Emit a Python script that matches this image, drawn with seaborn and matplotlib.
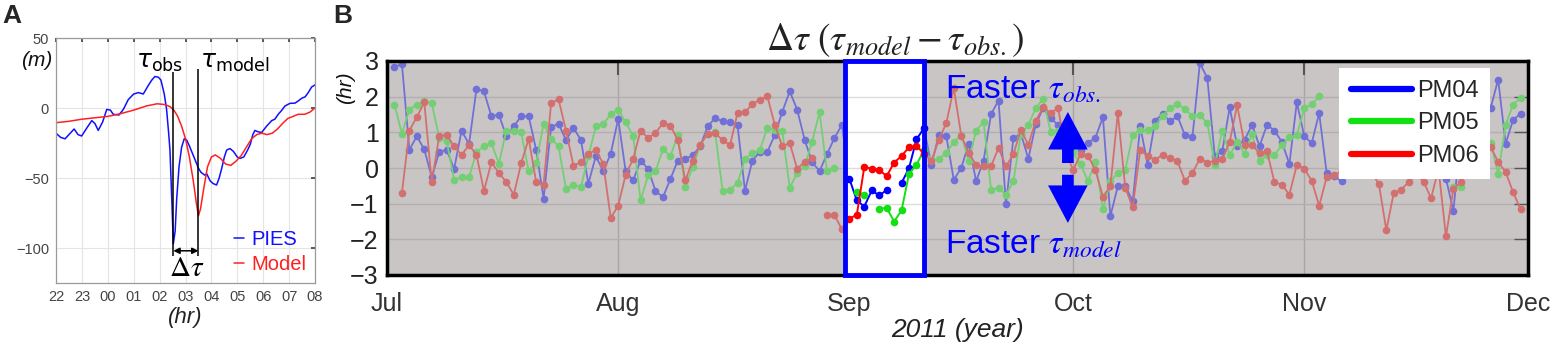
import numpy as np
import pandas as pd
import matplotlib
matplotlib.use("Agg")
import matplotlib.pyplot as plt
import seaborn as sns
from matplotlib.lines import Line2D

sns.set_theme(style="white")
plt.rcParams["font.family"] = ["Liberation Sans", "DejaVu Sans"]
plt.rcParams["mathtext.fontset"] = "stix"

nan = np.nan

# ---------------- Panel A data (hours after 22:00, metres) ----------------
hour_labels = ["22", "23", "00", "01", "02", "03", "04", "05", "06", "07", "08"]
pies_hours = [0.00, 0.18, 0.35, 0.55, 0.70, 0.85, 0.99, 1.20, 1.38, 1.50, 1.63, 1.80, 1.96, 2.10,
              2.21, 2.43, 2.60, 2.79, 3.00, 3.18, 3.37, 3.56, 3.70, 3.82, 3.95, 4.05, 4.18, 4.27,
              4.35, 4.40, 4.47, 4.53, 4.60, 4.66, 4.75, 4.85, 4.95, 5.05, 5.17, 5.37, 5.50, 5.60,
              5.75, 5.82, 5.95, 6.07, 6.20, 6.30, 6.40, 6.50, 6.59, 6.72, 6.85, 7.00, 7.10, 7.25,
              7.40, 7.50, 7.60, 7.68, 7.80, 7.94, 8.13, 8.33, 8.45, 8.58, 8.70, 8.84, 9.03, 9.23,
              9.35, 9.49, 9.62, 9.74, 9.87, 10.0]
pies_vals = [-18, -21, -22, -18, -15, -19, -20, -14, -9, -11, -16, -10, -1, -1.5,
             -4.5, -5, -1, 6, 10, 11, 10, 16, 20, 22.5, 22, 20, 10, -1,
             -18, -30, -65, -97, -88, -65, -42, -28, -22, -23, -28, -37, -43, -46,
             -48, -47, -52, -54, -55, -50, -43, -35, -30, -29, -31, -35, -36, -35,
             -30, -26, -19, -16, -17, -17.5, -13, -9, -8, -4.5, -2, 1.4, 3.3, 3.5,
             5, 7, 8, 11, 15, 16.5]
model_hours = [0.0, 0.5, 1.0, 1.5, 2.0, 2.5, 3.0, 3.5, 3.9, 4.2, 4.4, 4.55, 4.7, 4.85, 5.0,
               5.15, 5.3, 5.42, 5.50, 5.58, 5.70, 5.85, 6.0, 6.15, 6.35, 6.55, 6.75, 6.95,
               7.15, 7.35, 7.55, 7.75, 7.95, 8.15, 8.35, 8.55, 8.75, 8.95, 9.15, 9.35, 9.6,
               9.8, 10.0]
model_vals = [-10.5, -9.5, -8, -7, -6, -4, -1.5, 1.5, 3, 2.5, 1, -1.5, -6, -13, -22,
              -35, -52, -68, -77, -72, -58, -42, -35, -33.5, -36, -40, -41, -38,
              -34, -28, -22, -19, -18, -19, -18, -15, -11, -7.5, -6, -4.5, -4.5,
              -3, 0]
tau_obs_hour = 4.53
tau_model_hour = 5.50

# ---------------- Panel B data (daily, from 2011-07-01) ----------------
stations = ["PM04", "PM05", "PM06"]
pm04 = [nan, 2.83, 2.92, 0.51, 0.89, 0.52, -0.26, 0.45, 0.51, -0.03,
        1.05, 0.67, 2.22, 2.15, 1.45, 1.50, 0.89, 1.17, 1.45, 1.45,
        0.51, -0.86, 1.15, 1.24, 0.78, 1.12, 0.79, -0.44, 0.33, -0.09,
        0.40, 1.38, -0.09, -0.35, 0.21, -0.02, -0.64, -0.82, -0.31, 0.21,
        0.25, 0.36, 0.61, 1.17, 1.40, 1.31, 1.29, 1.21, -0.64, 0.21,
        0.45, 0.45, 0.93, 1.57, 2.15, 1.64, 0.79, 0.17, -0.09, 0.39,
        0.84, 1.21, -0.30, -0.91, -1.08, -0.63, -0.77, -0.62, nan, -0.42,
        0.00, 0.80, 1.12, 0.09, 0.93, 0.89, -0.33, 0.00, 0.68, -0.37,
        0.21, 1.51, 1.89, -1.01, 0.84, 0.96, 0.26, 1.23, 1.68, 1.40,
        1.20, 0.93, 0.75, 0.51, 0.70, 0.85, 1.43, -1.35, -0.51, -0.51,
        -0.93, 1.17, 0.09, 1.33, 1.51, 1.31, 1.45, 0.92, 0.86, 2.94,
        2.52, 0.33, 0.47, 1.70, 0.61, 0.79, 1.21, 0.61, 1.21, 1.05,
        0.73, 0.11, 1.84, 0.89, 0.70, 1.54, -0.14, -0.23, -0.37, nan,
        nan, nan, nan, nan, nan, nan, nan, nan, nan, nan,
        nan, 0.50, -0.30, -1.20, 1.03, 0.90, 0.72, 1.79, 1.69, 2.48,
        0.68, 1.35, 1.52]
pm05 = [nan, 1.78, 0.96, 1.64, 1.78, 1.87, 1.82, 0.85, 0.75, -0.33,
        -0.26, -0.26, 0.45, 0.61, 0.70, 0.12, 1.05, 1.05, 1.00, -0.09,
        0.14, 1.24, 0.81, 0.61, -0.58, -0.47, -0.54, 0.33, 1.17, 1.23,
        1.51, 1.64, 1.28, 0.91, -0.91, -0.21, -0.09, 0.53, 0.33, 0.93,
        -0.54, 0.03, 0.65, 0.96, 1.00, -0.64, -0.61, -0.42, 0.25, 0.42,
        0.51, 1.12, 1.07, 1.05, -0.56, -0.14, 0.05, 0.73, 1.57, -0.09,
        0.00, nan, nan, -0.66, -0.75, nan, -1.14, -1.12, -1.50, -1.19,
        -0.16, 0.09, 0.50, 0.23, 0.26, 0.42, 0.73, 0.92, 0.21, 1.05,
        1.29, -0.61, -0.56, -0.75, -0.37, 0.95, 1.21, 1.68, 1.94, 1.00,
        1.05, 0.90, 0.45, 0.10, -0.37, 0.18, -1.15, -0.37, -0.14, -0.05,
        0.93, 1.07, 1.07, 1.17, 1.45, 1.68, 1.79, 1.66, 1.45, 1.48,
        1.26, 0.09, 1.05, 0.36, 0.73, 0.40, 0.95, 0.19, 0.37, 0.36,
        0.64, 0.86, 0.92, 1.68, 1.79, 2.01, nan, nan, nan, nan,
        nan, nan, nan, nan, nan, nan, nan, nan, nan, nan,
        0.03, nan, nan, -0.54, -0.54, 0.60, 1.64, 0.84, 0.71, -0.16,
        1.21, 1.78, 1.96]
pm06 = [nan, nan, -0.70, 1.05, 1.43, 1.84, -0.40, 0.89, 0.93, 0.61,
        0.37, 0.64, 0.37, -0.64, 0.16, -0.14, -0.39, -0.75, 0.14, 0.82,
        -0.39, -0.47, 1.81, 1.93, 1.05, 0.07, 0.16, 0.40, 0.50, 0.12,
        -1.40, -1.06, -0.19, 0.25, 1.05, 0.84, 0.98, 1.26, 1.19, 0.78,
        -0.35, 0.21, 0.65, 0.96, 0.97, 0.79, 0.64, 1.54, 1.57, 1.79,
        1.92, 2.01, 1.21, 0.61, 0.70, -0.02, 0.17, 0.28, nan, -1.32,
        -1.32, -1.72, -1.42, -1.31, 0.03, -0.02, -0.05, -0.23, 0.15, 0.34,
        0.58, 0.62, 0.40, 0.19, 0.79, 1.26, 2.24, 0.91, 0.42, 0.09,
        0.05, 0.05, 0.56, 0.05, 0.39, 1.07, 0.65, 1.33, 1.70, 1.54,
        1.68, 0.50, -0.07, 0.39, 0.35, -0.07, -0.80, -0.51, 1.54, -0.56,
        -1.10, 0.51, 0.33, 0.23, 0.37, 0.28, 0.19, -0.36, -0.14, 0.26,
        0.15, 0.20, 0.25, 0.73, 1.76, 0.65, 0.64, 0.42, 0.47, -0.40,
        -0.47, -0.75, 0.09, -0.02, -0.36, -1.06, -0.26, -0.21, -0.09, 0.09,
        -0.05, -0.11, -0.14, -0.44, -1.74, -0.70, -0.61, -0.39, -0.18, -0.38,
        -0.85, -0.02, -1.92, -0.58, -0.39, -0.08, -0.07, 0.20, 0.59, 0.17,
        -0.11, -0.68, -1.15]
month_labels = ["Jul", "Aug", "Sep", "Oct", "Nov", "Dec"]
start_date = pd.Timestamp("2011-07-01")
end_date = pd.Timestamp("2011-12-01")
box_start_day, box_end_day = 61.4, 72.0
bright_first, bright_last = 62, 72

faded_pal = {"PM04": "#7170d6", "PM05": "#74cf74", "PM06": "#d27070"}
bright_pal = {"PM04": "#0000ff", "PM05": "#11e011", "PM06": "#ff0000"}


def to_long(series, first=0, last=None):
    rows = []
    for name, vals in series.items():
        seg, gap = 0, True
        stop = len(vals) - 1 if last is None else last
        for d in range(first, stop + 1):
            v = vals[d]
            if np.isnan(v):
                gap = True
                continue
            if gap:
                seg += 1
                gap = False
            rows.append((start_date + pd.Timedelta(days=d), v, name, f"{name}_{seg}"))
    return pd.DataFrame(rows, columns=["date", "value", "station", "seg"])


series = {"PM04": pm04, "PM05": pm05, "PM06": pm06}
df_all = to_long(series)
df_box = to_long(series, bright_first, bright_last)

fig = plt.figure(figsize=(15.53, 3.51), dpi=100)
W, H = 1553, 351

# ================= Panel A =================
axA = fig.add_axes([56 / W, 1 - 283 / H, 259 / W, 245 / H])
dfA1 = pd.DataFrame({"h": pies_hours, "v": pies_vals})
dfA2 = pd.DataFrame({"h": model_hours, "v": model_vals})
sns.lineplot(data=dfA1, x="h", y="v", color="#1010ff", lw=1.1, ax=axA, label="PIES", sort=False)
sns.lineplot(data=dfA2, x="h", y="v", color="#ff2020", lw=1.1, ax=axA, label="Model", sort=False)
axA.set_xlim(0, 10)
axA.set_ylim(-125, 50)
axA.set_xticks(range(11))
axA.set_xticklabels(hour_labels)
axA.set_yticks([50, 0, -50, -100])
axA.grid(True, color="#e4e4e4", lw=0.8)
axA.tick_params(direction="in", length=3, colors="#444444", labelsize=10.5, top=True, right=True,
                pad=5)
for s in axA.spines.values():
    s.set_color("#9a9a9a")
    s.set_linewidth(0.9)
axA.set_xlabel("(hr)", fontsize=16, style="italic", color="#222222", labelpad=2)
axA.set_ylabel("")
axA.text(-0.015, 0.91, "(m)", transform=axA.transAxes, fontsize=15, style="italic",
         ha="right", va="center", color="#111111")
axA.vlines([tau_obs_hour, tau_model_hour], -106, [26, 28], colors="black", lw=1.1)
axA.annotate("", xy=(tau_obs_hour, -102), xytext=(tau_model_hour, -102),
             arrowprops=dict(arrowstyle="<|-|>", color="black", lw=1.1, mutation_scale=9,
                             shrinkA=0, shrinkB=0))
axA.text(3.1, 24, r"$\tau_{\mathrm{obs}}$", fontsize=18, ha="left", va="bottom", color="black",
         math_fontfamily="dejavusans")
axA.text(5.55, 24, r"$\tau_{\mathrm{model}}$", fontsize=18, ha="left", va="bottom",
         color="black", math_fontfamily="dejavusans")
axA.text(5.04, -114, r"$\mathit{\Delta\tau}$", fontsize=21, ha="center", va="center",
         color="black")
legA = axA.legend(loc="lower right", frameon=False, handlelength=0.5, handletextpad=0.35,
                  fontsize=14.5, labelspacing=0.3, borderaxespad=0.05, labelcolor="linecolor")
fig.text(2 / W, 1 - 16 / H, "A", fontsize=19, fontweight="bold", ha="left", va="center")

# ================= Panel B =================
axB = fig.add_axes([387 / W, 1 - 275 / H, 1141 / W, 214 / H])
axB.set_facecolor("#c9c5c5")
sns.lineplot(data=df_all, x="date", y="value", hue="station", units="seg", estimator=None,
             palette=faded_pal, marker="o", markersize=5.5, markeredgewidth=0, linewidth=1.3,
             legend=False, ax=axB, sort=False, zorder=2)

x0 = start_date + pd.Timedelta(days=box_start_day)
x1 = start_date + pd.Timedelta(days=box_end_day)
axB.axvspan(x0, x1, facecolor="white", edgecolor="none", zorder=3)
axB.hlines([-2, -1, 0, 1, 2], x0, x1, colors="#dcdcdc", lw=1.0, zorder=3.2)
sns.lineplot(data=df_box, x="date", y="value", hue="station", units="seg", estimator=None,
             palette=bright_pal, marker="o", markersize=5.5, markeredgewidth=0, linewidth=1.4,
             legend=False, ax=axB, sort=False, zorder=4)
axB.axvspan(x0, x1, facecolor="none", edgecolor="#0000ff", lw=3.5, zorder=6, clip_on=False)

axB.set_xlim(start_date, end_date)
axB.set_ylim(-3, 3)
axB.set_yticks([-3, -2, -1, 0, 1, 2, 3])
month_starts = pd.date_range("2011-07-01", "2011-12-01", freq="MS")
axB.set_xticks(month_starts)
axB.set_xticklabels(month_labels)
axB.yaxis.grid(True, color="#b3afaf", lw=1.0)
axB.xaxis.grid(True, color="#a9a5a5", lw=1.0)
axB.set_axisbelow(True)
axB.tick_params(axis="x", direction="in", length=10, width=1.5, color="#555555", top=True,
                labelsize=18, labelcolor="#333333", pad=12)
axB.tick_params(axis="y", direction="in", length=10, width=1.0, color="#555555", right=True,
                labelsize=18, labelcolor="#222222", pad=6)
for s in axB.spines.values():
    s.set_color("black")
    s.set_linewidth(2.5)
axB.set_xlabel("2011 (year)", fontsize=19, style="italic", color="#222222", labelpad=2)
axB.set_ylabel("")
fig.text(346 / W, 1 - 88 / H, "(hr)", fontsize=15, style="italic", rotation=90,
         ha="center", va="center", color="#111111")

fig.text(895 / W, 1 - 40 / H, r"$\Delta\tau\ (\tau_{model} - \tau_{obs.})$", fontsize=27,
         ha="center", va="center", color="#222222")
fig.text(333 / W, 1 - 16 / H, "B", fontsize=19, fontweight="bold", ha="left", va="center")

arrow_x = start_date + pd.Timedelta(days=91.3)
arrow_style = "simple,head_length=0.9,head_width=0.95,tail_width=0.28"
axB.annotate("", xy=(arrow_x, 1.57), xytext=(arrow_x, 0.14),
             arrowprops=dict(arrowstyle=arrow_style, mutation_scale=30, fc="#0000ff", ec="none",
                             shrinkA=0, shrinkB=0), zorder=7)
axB.annotate("", xy=(arrow_x, -1.54), xytext=(arrow_x, -0.19),
             arrowprops=dict(arrowstyle=arrow_style, mutation_scale=30, fc="#0000ff", ec="none",
                             shrinkA=0, shrinkB=0), zorder=7)
text_x = start_date + pd.Timedelta(days=74.8)
axB.text(text_x, 2.2, r"Faster $\tau_{obs.}$", fontsize=24, color="#0000ff", ha="left",
         va="center", zorder=7)
axB.text(text_x, -2.15, r"Faster $\tau_{model}$", fontsize=24, color="#0000ff", ha="left",
         va="center", zorder=7)

handles = [Line2D([0], [0], color=bright_pal[s], lw=4.5) for s in stations]
legB = axB.legend(handles, stations, loc="upper left",
                  bbox_to_anchor=((1339 - 387) / 1141, (275 - 68) / 214),
                  fontsize=17, frameon=True, fancybox=False, handlelength=2.6,
                  handletextpad=0.2, labelspacing=0.45, borderpad=0.5, borderaxespad=0)
legB.get_frame().set_facecolor("white")
legB.get_frame().set_edgecolor("none")
legB.get_frame().set_alpha(1.0)
legB.set_zorder(8)

fig.savefig("out.png", dpi=100)
